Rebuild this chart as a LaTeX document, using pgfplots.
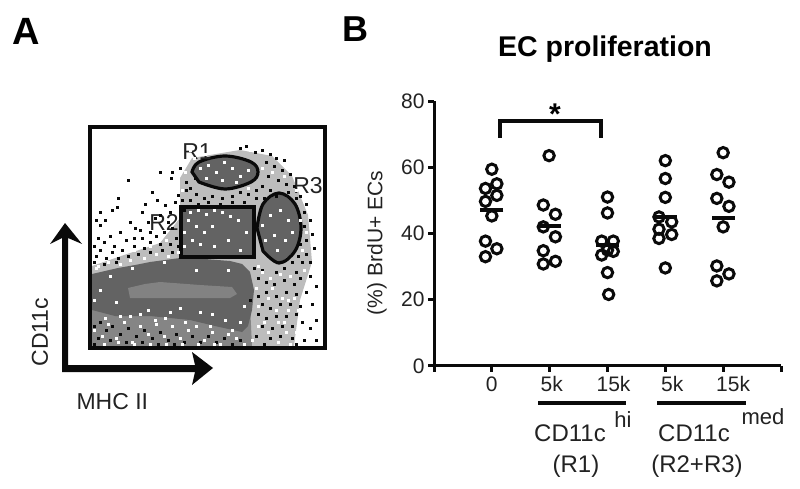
\documentclass[border=0pt]{standalone}
\usepackage{pgfplots}
\pgfplotsset{compat=1.18}
\usepackage{fontspec}
\setmainfont{Liberation Sans}
\definecolor{ink}{HTML}{0A0A0A}
\definecolor{dk}{HTML}{636363}
\definecolor{md}{HTML}{858585}
\definecolor{lt}{HTML}{BDBDBD}
\definecolor{cr}{HTML}{828282}
\definecolor{txt}{HTML}{222222}
\newcommand{\fs}[1]{\fontsize{#1}{#1}\selectfont}
\begin{document}
\begin{tikzpicture}[x=1pt,y=1pt]
\path[use as bounding box] (0,0) rectangle (800,489);
\begin{axis}[name=canvas,at={(0pt,0pt)},anchor=south west,scale only axis,width=800pt,height=489pt,
  xmin=0,xmax=800,ymin=0,ymax=489,y dir=reverse,axis lines=none,clip=false]
% density regions of the flow panel
\addplot[draw=none,fill=lt] coordinates {(180,178)(192,158)(240,150)(272,156)(292,176)(308,215)(312,262)(300,300)(294,346)(92,346)(92,266)(130,253)(160,243)(180,218)} -- cycle;
\addplot[draw=none,fill=md] coordinates {(92,305)(250,305)(252,346)(92,346)} -- cycle;
\addplot[draw=none,fill=dk] coordinates {(92,274)(105,271)(118,268)(135,265)(150,262)(180,258)(205,259)(230,261)(242,264)(250,272)(254,290)(252,310)(248,326)(242,332)(215,326)(190,320)(150,316)(115,316)(92,310)} -- cycle;
\addplot[draw=none,fill=cr] coordinates {(128,288)(145,284)(160,282)(200,285)(232,287)(237,294)(230,298)(200,298)(160,298)(130,298)} -- cycle;
\addplot[draw=none,fill=dk] coordinates {(180,205)(254,205)(254,258)(180,258)} -- cycle;
\addplot[draw=none,fill=dk] coordinates {(192,172)(200,160)(225,155)(250,160)(258,172)(250,184)(225,189)(200,184)} -- cycle;
\addplot[draw=none,fill=dk] coordinates {(258,228)(262,205)(279,192)(296,205)(301,228)(296,250)(279,264)(262,250)} -- cycle;
% black events
\addplot[only marks,mark=square*,mark size=1.1pt,ink,mark options={draw=none}] coordinates {
(128,180)(160,172)(172,172)(171,178)(180,168)(186,182)(186,190)(178,195)(175,202)(182,200)(190,188)(195,178)(184,210)(152,192)(118,198)(117,207)(112,210)(100,212)(96,220)(130,222)(142,212)(145,204)(157,200)(165,205)(170,212)(160,215)(135,228)(140,230)(100,225)(105,220)(148,222)(155,218)(168,222)(172,228)(150,232)(120,232)(110,236)(98,238)(104,242)(114,246)(126,240)(134,238)(142,238)(156,236)(164,232)(176,238)(170,244)(160,244)(150,242)(144,248)(134,246)(122,250)(112,252)(100,250)(94,246)(96,256)(106,258)(118,258)(128,256)(138,254)(150,252)(162,250)(172,252)(178,246)(94,262)(104,264)(116,262)
(240,148)(246,146)(255,152)(262,150)(270,154)(276,158)(284,160)(266,162)(274,166)(282,170)(290,174)(268,176)(278,180)(286,184)(262,186)(270,190)(256,190)(248,194)(240,192)(232,196)(222,198)(212,196)(204,198)(196,194)(190,200)(198,204)(208,202)(220,204)(232,202)(244,202)(256,198)(264,198)(276,196)(288,192)(294,186)(300,196)(306,204)(296,198)(304,212)(310,220)(304,226)(312,234)(306,240)(300,244)(314,248)(306,254)(298,256)(310,262)(302,262)(292,262)(284,268)(296,272)(276,272)
(262,270)(258,278)(266,282)(274,284)(284,280)(294,284)(300,278)(310,276)(316,286)(306,292)(296,294)(286,292)(276,296)(266,292)(258,296)(262,304)(270,308)(280,304)(290,304)(300,306)(312,304)(296,314)(286,316)(276,316)(266,318)(258,314)(262,326)(272,328)(282,326)(292,326)(302,322)(310,328)(316,320)(270,338)(280,336)(292,338)(304,340)(256,336)(264,344)(296,344)(316,340)(250,300)(254,268)
(94,326)(100,322)(106,330)(112,326)(120,334)(128,328)(136,336)(144,330)(152,338)(160,332)(168,340)(176,334)(184,342)(192,336)(200,342)(208,336)(216,342)(224,338)(232,344)(240,340)(98,338)(110,340)(126,342)(142,342)(158,344)(174,344)(94,344)
};
% white gaps in the dense areas
\addplot[only marks,mark=square*,mark size=1.1pt,white,mark options={draw=none}] coordinates {
(200,168)(208,165)(216,172)(224,162)(232,168)(240,176)(248,170)(206,178)(222,180)(236,182)(190,212)(198,210)(206,214)(214,210)(222,212)(230,216)(238,220)(188,220)(196,226)(204,232)(212,226)(184,232)(192,240)(200,244)(214,246)(228,240)(240,250)(246,232)(184,246)(262,225)(270,215)(280,210)(288,220)(274,235)(265,240)(285,240)(277,250)(292,232)(194,158)(248,188)
(262,272)(270,278)(280,274)(290,276)(304,270)(256,288)(268,298)(282,298)(294,298)(258,306)(276,310)(288,310)(264,322)(278,322)(268,332)(286,332)(258,326)(252,340)(94,330)(102,336)(108,324)(116,338)(124,322)(132,342)(140,326)(148,334)(156,324)(164,336)(172,326)(180,338)(188,330)(196,326)(204,340)(212,332)(220,344)(228,334)(236,338)(244,344)(104,344)(118,342)(134,344)(150,344)(166,344)(182,344)(198,344)(214,344)
(100,290)(116,302)(132,268)(148,310)(164,262)(180,308)(196,270)(212,314)(228,270)(244,306)(110,276)(170,312)(200,312)(225,320)(240,322)(96,268)(120,316)(140,314)(165,318)(94,300)(130,316)(155,320)(185,322)(210,326)(232,330)(105,318)
(98,266)(108,262)(120,264)(130,260)(144,258)(156,254)(168,256)(178,252)(134,250)(150,246)(166,240)(190,150)(205,154)(185,172)(182,190)(250,150)(262,168)(272,172)(284,176)(296,190)(304,200)(300,220)(306,232)(302,250)(258,266)(272,288)(288,300)(298,310)(284,322)(296,332)(278,342)(290,344)
};
% gates and frame
\addplot[draw=ink,line width=3.5pt] coordinates {(90,127)(325,127)(325,348)(90,348)} -- cycle;
\addplot[draw=ink,line width=3.5pt] coordinates {(181,207)(254,207)(254,257)(181,257)} -- cycle;
\addplot[draw=ink,line width=3.2pt,smooth,tension=0.6] coordinates {(192,172)(199,162)(225,156)(251,162)(258,172)(251,182)(225,189)(199,182)} -- cycle;
\addplot[draw=ink,line width=3.2pt,smooth,tension=0.6] coordinates {(257,228)(263,204)(279,193)(295,204)(301,228)(295,251)(279,263)(263,251)} -- cycle;
% arrows
\addplot[draw=none,fill=ink] coordinates {(62,372)(62,238)(50,244)(65,223)(82,244)(68,238)(68,365)(195,365)(192,352)(213,368)(192,385)(195,372)} -- cycle;
% text of panel A and annotations
\node[font=\fs{38}\bfseries,anchor=center] at (axis cs:26,31) {A};
\node[font=\fs{36}\bfseries,anchor=center] at (axis cs:355,29) {B};
\node[font=\fs{23},rotate=90,anchor=center,text=txt] at (axis cs:40,332) {CD11c};
\node[font=\fs{23},anchor=base west,text=txt] at (axis cs:73,409) {MHC II};
\node[font=\fs{23},anchor=center,text=txt] at (axis cs:197,152) {R1};
\node[font=\fs{23},anchor=center,text=txt] at (axis cs:164,222) {R2};
\node[font=\fs{23},anchor=center,text=txt] at (axis cs:308,186) {R3};
\node[font=\fs{28.5}\bfseries,anchor=base] at (axis cs:605,57) {EC proliferation};
\node[font=\fs{21},rotate=90,anchor=center,text=txt] at (axis cs:377,243) {(\%) BrdU+ ECs};
\node[font=\fs{30}\bfseries,anchor=center] at (axis cs:555,114) {*};
\addplot[draw=ink,line width=4pt] coordinates {(500,138)(500,121)(601,121)(601,138)};
\addplot[draw=ink,line width=4pt] coordinates {(538,403)(626,403)};
\addplot[draw=ink,line width=4pt] coordinates {(657,403)(746,403)};
\node[font=\fs{24},anchor=base,text=txt] at (axis cs:570,441) {CD11c};
\node[font=\fs{22},anchor=base,text=txt] at (axis cs:623,427) {hi};
\node[font=\fs{24},anchor=base,text=txt] at (axis cs:576,472) {(R1)};
\node[font=\fs{24},anchor=base,text=txt] at (axis cs:694,441) {CD11c};
\node[font=\fs{22},anchor=base,text=txt] at (axis cs:763,424) {med};
\node[font=\fs{24},anchor=base,text=txt] at (axis cs:697,472) {(R2+R3)};
\end{axis}
\begin{axis}[at={(434pt,123pt)},anchor=south west,scale only axis,width=347pt,height=265pt,
  xmin=-1,xmax=5,ymin=0,ymax=80,axis x line=bottom,axis y line=left,
  axis line style={line width=3pt,-,ink},
  tick style={line width=3pt,ink},tick align=outside,major tick length=6pt,
  xtick={-1,0,1,2,3,4,5},
  xticklabels={,0,\hspace{4pt}5k,\hspace{12pt}15k,\hspace{14pt}5k,\hspace{20pt}15k,},
  ytick={0,20,40,60,80},
  tick label style={font=\fs{21},text=txt},
  /pgf/number format/assume math mode=true,
  xticklabel style={yshift=-1pt},
  clip=false]
\addplot[only marks,mark=o,mark size=5.2pt,mark options={line width=3pt,ink}] coordinates {
(0.0,59.4)(0.087,55)(-0.11,53.6)(0.087,51.5)(-0.11,49.7)(0.0,45.3)(-0.11,37.7)(0.087,35.4)(-0.11,33)
(0.99,63.5)(0.89,48.6)(1.1,45.8)(0.89,42)(1.1,39)(0.89,34.8)(0.89,30.8)(1.1,31.6)
(2.0,51)(2.0,46.2)(1.9,37.7)(2.1,37.7)(2.0,35)(2.1,34.6)(1.9,33.5)(2.0,28.2)(2.02,21.6)
(3.0,62)(3.0,56.6)(3.0,50.9)(2.89,45)(3.11,43.5)(2.89,41.3)(3.11,39.7)(2.89,38.5)(3.0,29.6)
(4.0,64.4)(3.89,57.8)(4.1,55.5)(3.89,50.6)(4.1,48.2)(4.0,42)(3.89,30.2)(4.1,27.8)(3.89,25.7)
};
\addplot[only marks,mark=-,mark size=11.5pt,mark options={line width=4pt,ink}] coordinates {(0,47.2)(1,42.3)(2,36.5)(3,45)(4,44.8)};
\end{axis}
\end{tikzpicture}
\end{document}
